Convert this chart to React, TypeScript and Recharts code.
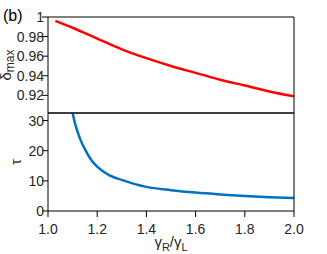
import { LineChart, Line, XAxis, YAxis } from 'recharts';

const ratio = [1.03, 1.1, 1.2, 1.3, 1.4, 1.5, 1.6, 1.7, 1.8, 1.9, 2.0];
const deltaMax = [0.996, 0.989, 0.978, 0.967, 0.958, 0.95, 0.943, 0.936, 0.93, 0.924, 0.919];

const tauRatio = [1.1, 1.11, 1.13, 1.15, 1.175, 1.2, 1.25, 1.3, 1.35, 1.4, 1.5, 1.6, 1.7, 1.8, 1.9, 2.0];
const tau = [32.5, 29, 24, 20.5, 17, 14.7, 11.8, 10.3, 9.0, 8.0, 6.9, 6.1, 5.5, 5.0, 4.6, 4.3];

const xTicks = [1.0, 1.2, 1.4, 1.6, 1.8, 2.0];
const deltaTicks = [0.92, 0.94, 0.96, 0.98, 1];
const tauTicks = [0, 10, 20, 30];

const topData = ratio.map((r, i) => ({ r, v: deltaMax[i] }));
const bottomData = tauRatio.map((r, i) => ({ r, v: tau[i] }));

const AX = 'black';
const TXT = '#262626';
const FONT = '"Liberation Sans", Arial, sans-serif';
const tickStyle = { fill: TXT, fontSize: 14, fontFamily: FONT };
const yTickStyle = { ...tickStyle, dx: 4 };

const panelLabel = () => (
  <g>
    <text x={3} y={21} fontSize={16} fontFamily={FONT} fill="#000">(b)</text>
    <text transform="translate(11,65) rotate(-90)" textAnchor="middle" fontSize={15} fontFamily={FONT} fill={TXT}>
      δ<tspan dy={3} fontSize={12}>max</tspan>
    </text>
  </g>
);

const tauLabel = () => (
  <text transform="translate(21,62) rotate(-90)" textAnchor="middle" fontSize={14} fontFamily={FONT} fill={TXT}>
    τ
  </text>
);

const xLabel = () => (
  <text x={171} y={147} textAnchor="middle" fontSize={15} fontFamily={FONT} fill={TXT}>
    γ<tspan dy={4} fontSize={11}>R</tspan><tspan dy={-4}>/γ</tspan><tspan dy={4} fontSize={11}>L</tspan>
  </text>
);

export default function App() {
  return (
    <div style={{ position: 'absolute', left: 0, top: 0, width: 327, height: 254, background: '#fff' }}>
      <div style={{ position: 'absolute', left: 0, top: 0 }}>
        <LineChart width={327} height={140} data={topData} margin={{ top: 7, right: 0, bottom: 0, left: 0 }}>
          <XAxis dataKey="r" type="number" domain={[1, 2]} ticks={xTicks} height={27}
            stroke={AX} tick={false} />
          <XAxis xAxisId="top" orientation="top" dataKey="r" type="number" domain={[1, 2]} ticks={xTicks} height={10}
            stroke={AX} tick={false} />
          <YAxis domain={[0.902, 1]} ticks={deltaTicks} width={48} allowDataOverflow
            stroke={AX} tick={yTickStyle} interval={0} label={panelLabel} />
          <YAxis yAxisId="right" orientation="right" domain={[0.902, 1]} ticks={deltaTicks} width={33}
            stroke={AX} tick={false} />
          <Line dataKey="v" type="monotone" stroke="#ff0000" strokeWidth={2.5} dot={false} isAnimationActive={false} />
        </LineChart>
      </div>
      <div style={{ position: 'absolute', left: 0, top: 100 }}>
        <LineChart width={327} height={154} data={bottomData} margin={{ top: 3, right: 0, bottom: 0, left: 0 }}>
          <XAxis dataKey="r" type="number" domain={[1, 2]} ticks={xTicks} height={43}
            stroke={AX} tick={tickStyle} tickMargin={7} interval={0}
            tickFormatter={(v: number) => v.toFixed(1)} label={xLabel} />
          <XAxis xAxisId="top" orientation="top" dataKey="r" type="number" domain={[1, 2]} ticks={xTicks} height={10}
            stroke={AX} tick={false} />
          <YAxis domain={[0, 32.5]} ticks={tauTicks} width={48} allowDataOverflow
            stroke={AX} tick={yTickStyle} interval={0} label={tauLabel} />
          <YAxis yAxisId="right" orientation="right" domain={[0, 32.5]} ticks={tauTicks} width={33}
            stroke={AX} tick={false} />
          <Line dataKey="v" type="monotone" stroke="#0072BD" strokeWidth={2.5} dot={false} isAnimationActive={false} />
        </LineChart>
      </div>
    </div>
  );
}
